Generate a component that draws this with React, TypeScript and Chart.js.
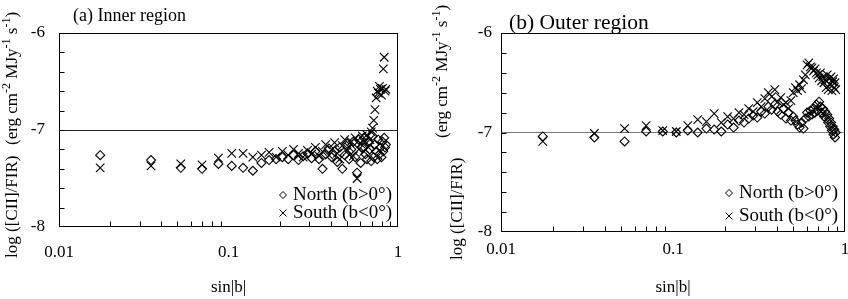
import React, { useEffect, useRef } from 'react';
import { Chart, registerables } from 'chart.js';
Chart.register(...registerables);

// sin|b| for b = 1..62 degrees
const sinB = [
  0.0175, 0.0349, 0.0523, 0.0698, 0.0872, 0.1045, 0.1219, 0.1392, 0.1564, 0.1736,
  0.1908, 0.2079, 0.2250, 0.2419, 0.2588, 0.2756, 0.2924, 0.3090, 0.3256, 0.3420,
  0.3584, 0.3746, 0.3907, 0.4067, 0.4226, 0.4384, 0.4540, 0.4695, 0.4848, 0.5000,
  0.5150, 0.5299, 0.5446, 0.5592, 0.5736, 0.5878, 0.6018, 0.6157, 0.6293, 0.6428,
  0.6561, 0.6691, 0.6820, 0.6947, 0.7071, 0.7193, 0.7314, 0.7431, 0.7547, 0.7660,
  0.7771, 0.7880, 0.7986, 0.8090, 0.8192, 0.8290, 0.8387, 0.8480, 0.8572, 0.8660,
  0.8746, 0.8829,
];

const innerNorth = [
  -7.26, -7.31, -7.39, -7.40, -7.35, -7.37, -7.39, -7.42, -7.34, -7.31,
  -7.30, -7.28, -7.30, -7.26, -7.31, -7.27, -7.24, -7.29, -7.22, -7.30,
  -7.40, -7.25, -7.19, -7.28, -7.22, -7.33, -7.18, -7.40, -7.26, -7.14,
  -7.30, -7.20, -7.12, -7.28, -7.44, -7.10, -7.34, -7.18, -7.08, -7.25,
  -7.30, -7.12, -7.20, -7.32, -7.06, -7.28, -7.15, -7.22, -7.30, -7.10,
  -7.25, -7.18, -7.28, -7.12, -7.22, -7.08, -7.18, -7.15,
];
const innerSouth = [
  -7.39, -7.37, -7.35, -7.36, -7.29, -7.24, -7.24, -7.28, -7.26, -7.23,
  -7.28, -7.22, -7.26, -7.20, -7.24, -7.28, -7.21, -7.25, -7.18, -7.27,
  -7.22, -7.15, -7.26, -7.20, -7.13, -7.24, -7.30, -7.16, -7.10, -7.22,
  -7.18, -7.12, -7.27, -7.08, -7.50, -7.20, -7.14, -7.06, -7.22, -7.12,
  -7.05, -7.18, -7.10, -7.02, -6.98, -6.90, -6.79, -6.67, -6.60, -6.62,
  -6.55, -6.58, -6.64, -6.57, -6.37, -6.25, -6.60, -6.58,
];
const outerNorth = [
  -7.04, -7.05, -7.09, -6.99, -6.99, -7.00, -6.98, -7.00, -6.96, -6.97,
  -6.99, -6.92, -6.95, -6.88, -6.90, -6.86, -6.83, -6.85, -6.79, -6.81,
  -6.74, -6.77, -6.72, -6.79, -6.82, -6.76, -6.86, -6.80, -6.88, -6.84,
  -6.88, -6.92, -6.95, -6.90, -6.96, -6.86, -6.80, -6.84, -6.78, -6.82,
  -6.76, -6.80, -6.72, -6.78, -6.69, -6.74, -6.80, -6.76, -6.84, -6.79,
  -6.86, -6.82, -6.90, -6.86, -6.94, -6.90, -6.98, -6.94, -7.02, -6.97,
  -7.05, -7.00,
];
const outerSouth = [
  -7.09, -7.01, -6.96, -6.93, -6.98, -6.99, -6.93, -6.87, -6.89, -6.81,
  -6.90, -6.84, -6.86, -6.80, -6.82, -6.76, -6.79, -6.70, -6.74, -6.66,
  -6.60, -6.64, -6.57, -6.69, -6.65, -6.72, -6.70, -6.76, -6.68, -6.60,
  -6.55, -6.58, -6.52, -6.56, -6.47, -6.42, -6.32, -6.30, -6.34, -6.35,
  -6.38, -6.36, -6.40, -6.42, -6.45, -6.40, -6.48, -6.44, -6.50, -6.47,
  -6.55, -6.42, -6.57, -6.46, -6.52, -6.44, -6.58, -6.49, -6.46, -6.55,
  -6.50, -6.57,
];

const xTickValues = [0.01, 0.1, 1];
const xTickLabels = ['0.01', '0.1', '1'];
const yTickValues = [-8, -7, -6];
const yTickLabels = ['-8', '-7', '-6'];
const legendLabels = ['North (b>0°)', 'South (b<0°)'];

const SERIF = '"Liberation Serif", "Times New Roman", serif';

type Seg = { t: string; sup?: boolean };
const yTitle1: Seg[] = [{ t: 'log ([CII]/FIR)' }];
const yTitle2: Seg[] = [
  { t: '(erg cm' }, { t: '-2', sup: true }, { t: ' MJy' }, { t: '-1', sup: true },
  { t: ' s' }, { t: '-1', sup: true }, { t: ')' },
];

type PanelCfg = {
  left: number;
  title: string;
  titleSize: number;
  titleX: number;
  titleY: number;
  clipTitle: boolean;
  yWidth: number;
  padRight: number;
  xHeight: number;
  yTickPad: number;
  xLabelY: number;
  refColor: string;
  north: number[];
  south: number[];
  t1: { x: number; y: number };
  t2: { x: number; y: number };
  legX: number;
  legY: [number, number];
  xTitleY: number;
};

const panels: PanelCfg[] = [
  {
    left: 0, title: '(a) Inner region', titleSize: 18, titleX: 73, titleY: 16, clipTitle: false,
    yWidth: 59, padRight: 26, xHeight: 72, yTickPad: 14, xLabelY: 253, refColor: '#222',
    north: innerNorth, south: innerSouth,
    t1: { x: 13, y: 258 }, t2: { x: 13, y: 145 },
    legX: 283, legY: [195, 213], xTitleY: 288,
  },
  {
    left: 424, title: '(b) Outer region', titleSize: 21.5, titleX: 85, titleY: 23, clipTitle: true,
    yWidth: 77, padRight: 3, xHeight: 67, yTickPad: 9, xLabelY: 250, refColor: '#777',
    north: outerNorth, south: outerSouth,
    t1: { x: 34, y: 260 }, t2: { x: 19, y: 138 },
    legX: 305, legY: [193, 216], xTitleY: 288,
  },
];

function drawRich(ctx: CanvasRenderingContext2D, x: number, y: number, segs: Seg[], size: number) {
  ctx.save();
  ctx.translate(x, y);
  ctx.rotate(-Math.PI / 2);
  ctx.textBaseline = 'middle';
  ctx.textAlign = 'left';
  ctx.fillStyle = '#000';
  let cx = 0;
  for (const s of segs) {
    if (s.sup) {
      ctx.font = `${Math.round(size * 0.68)}px ${SERIF}`;
      ctx.fillText(s.t, cx, -size * 0.38);
    } else {
      ctx.font = `${size}px ${SERIF}`;
      ctx.fillText(s.t, cx, 0);
    }
    cx += ctx.measureText(s.t).width;
  }
  ctx.restore();
}

function diamond(ctx: CanvasRenderingContext2D, x: number, y: number, r: number) {
  ctx.beginPath();
  ctx.moveTo(x, y - r);
  ctx.lineTo(x + r, y);
  ctx.lineTo(x, y + r);
  ctx.lineTo(x - r, y);
  ctx.closePath();
  ctx.stroke();
}
function cross(ctx: CanvasRenderingContext2D, x: number, y: number, r: number) {
  ctx.beginPath();
  ctx.moveTo(x - r, y - r);
  ctx.lineTo(x + r, y + r);
  ctx.moveTo(x + r, y - r);
  ctx.lineTo(x - r, y + r);
  ctx.stroke();
}

function Panel({ cfg }: { cfg: PanelCfg }) {
  const ref = useRef<HTMLCanvasElement | null>(null);
  useEffect(() => {
    if (!ref.current) return;
    const overlay = {
      id: 'overlay',
      afterDraw(chart: any) {
        const ctx: CanvasRenderingContext2D = chart.ctx;
        const a = chart.chartArea;
        const xs = chart.scales.x;
        const ys = chart.scales.y;
        ctx.save();
        // title
        ctx.save();
        if (cfg.clipTitle) {
          ctx.beginPath();
          ctx.rect(0, 0, chart.width, Math.round(a.top));
          ctx.clip();
        }
        ctx.fillStyle = '#000';
        ctx.font = `${cfg.titleSize}px ${SERIF}`;
        ctx.textBaseline = 'middle';
        ctx.textAlign = 'left';
        ctx.fillText(cfg.title, cfg.titleX, cfg.titleY);
        ctx.restore();
        // frame
        ctx.strokeStyle = '#000';
        ctx.lineWidth = 1;
        const L = Math.round(a.left) + 0.5, T = Math.round(a.top) + 0.5;
        const R = Math.round(a.right) - 0.5, B = Math.round(a.bottom) - 0.5;
        ctx.strokeRect(L, T, R - L, B - T);
        // y minor ticks (inward)
        ctx.beginPath();
        for (let k = 1; k < 10; k++) {
          const v = -8 + k * 0.2;
          const py = Math.round(ys.getPixelForValue(v)) + 0.5;
          ctx.moveTo(L, py);
          ctx.lineTo(L + 5, py);
        }
        // x minor ticks (inward)
        for (const dec of [0.01, 0.1]) {
          for (let m = 2; m <= 9; m++) {
            const px = Math.round(xs.getPixelForValue(dec * m)) + 0.5;
            ctx.moveTo(px, B);
            ctx.lineTo(px, B - 5);
          }
        }
        ctx.stroke();
        // x tick labels
        ctx.fillStyle = '#000';
        ctx.font = `17px ${SERIF}`;
        ctx.textAlign = 'center';
        ctx.textBaseline = 'middle';
        xTickValues.forEach((v, i) => {
          ctx.fillText(xTickLabels[i], xs.getPixelForValue(v), cfg.xLabelY);
        });
        // y axis title
        drawRich(ctx, cfg.t1.x, cfg.t1.y, yTitle1, 17);
        drawRich(ctx, cfg.t2.x, cfg.t2.y, yTitle2, 17);
        // x axis title
        ctx.fillStyle = '#000';
        ctx.font = `17px ${SERIF}`;
        ctx.textAlign = 'center';
        ctx.textBaseline = 'middle';
        ctx.fillText('sin|b|', (a.left + a.right) / 2, cfg.xTitleY);
        // legend
        ctx.lineWidth = 1;
        ctx.strokeStyle = '#000';
        diamond(ctx, cfg.legX, cfg.legY[0], 3.5);
        cross(ctx, cfg.legX, cfg.legY[1], 3.5);
        ctx.font = `19px ${SERIF}`;
        ctx.textAlign = 'left';
        ctx.fillText(legendLabels[0], cfg.legX + 10, cfg.legY[0]);
        ctx.fillText(legendLabels[1], cfg.legX + 10, cfg.legY[1]);
        ctx.restore();
      },
    };
    const chart = new Chart(ref.current, {
      type: 'scatter',
      data: {
        datasets: [
          {
            label: legendLabels[0],
            data: cfg.north.map((y, i) => ({ x: sinB[i], y })),
            pointStyle: 'rectRot',
            pointRadius: 4.5,
            borderColor: '#000',
            backgroundColor: 'rgba(0,0,0,0)',
            pointBorderWidth: 1.1,
          },
          {
            label: legendLabels[1],
            data: cfg.south.map((y, i) => ({ x: sinB[i], y })),
            pointStyle: 'crossRot',
            pointRadius: 6,
            borderColor: '#000',
            backgroundColor: 'rgba(0,0,0,0)',
            pointBorderWidth: 1.1,
          },
        ],
      },
      options: {
        responsive: false,
        maintainAspectRatio: false,
        animation: false,
        events: [],
        layout: { autoPadding: false, padding: { left: 0, top: 33, right: cfg.padRight, bottom: 0 } },
        plugins: { legend: { display: false }, tooltip: { enabled: false } },
        scales: {
          x: {
            type: 'logarithmic',
            min: 0.01,
            max: 1,
            afterFit: (s: any) => {
              s.height = cfg.xHeight;
              s.paddingLeft = 0;
              s.paddingRight = 0;
            },
            afterBuildTicks: (s: any) => { s.ticks = xTickValues.map((v) => ({ value: v })); },
            grid: { display: false, drawTicks: false },
            border: { display: false },
            ticks: { display: false },
          },
          y: {
            type: 'linear',
            min: -8,
            max: -6,
            afterFit: (s: any) => {
              s.width = cfg.yWidth;
              s.paddingTop = 0;
              s.paddingBottom = 0;
            },
            afterBuildTicks: (s: any) => { s.ticks = yTickValues.map((v) => ({ value: v })); },
            grid: {
              drawTicks: false,
              lineWidth: 1,
              color: (c: any) => (c.tick && c.tick.value === -7 ? cfg.refColor : 'rgba(0,0,0,0)'),
            },
            border: { display: false },
            ticks: {
              padding: cfg.yTickPad,
              color: '#000',
              font: { family: SERIF, size: 17 },
              callback: (_v: any, i: number) => yTickLabels[i],
            },
          },
        },
      },
      plugins: [overlay],
    } as any);
    return () => chart.destroy();
  }, [cfg]);
  return (
    <canvas
      ref={ref}
      width={424}
      height={299}
      style={{ position: 'absolute', left: cfg.left, top: 0, width: 424, height: 299 }}
    />
  );
}

export default function App() {
  return (
    <div style={{ position: 'fixed', left: 0, top: 0, width: 848, height: 299, background: '#fff', overflow: 'hidden' }}>
      {panels.map((p, i) => (
        <Panel key={i} cfg={p} />
      ))}
    </div>
  );
}
